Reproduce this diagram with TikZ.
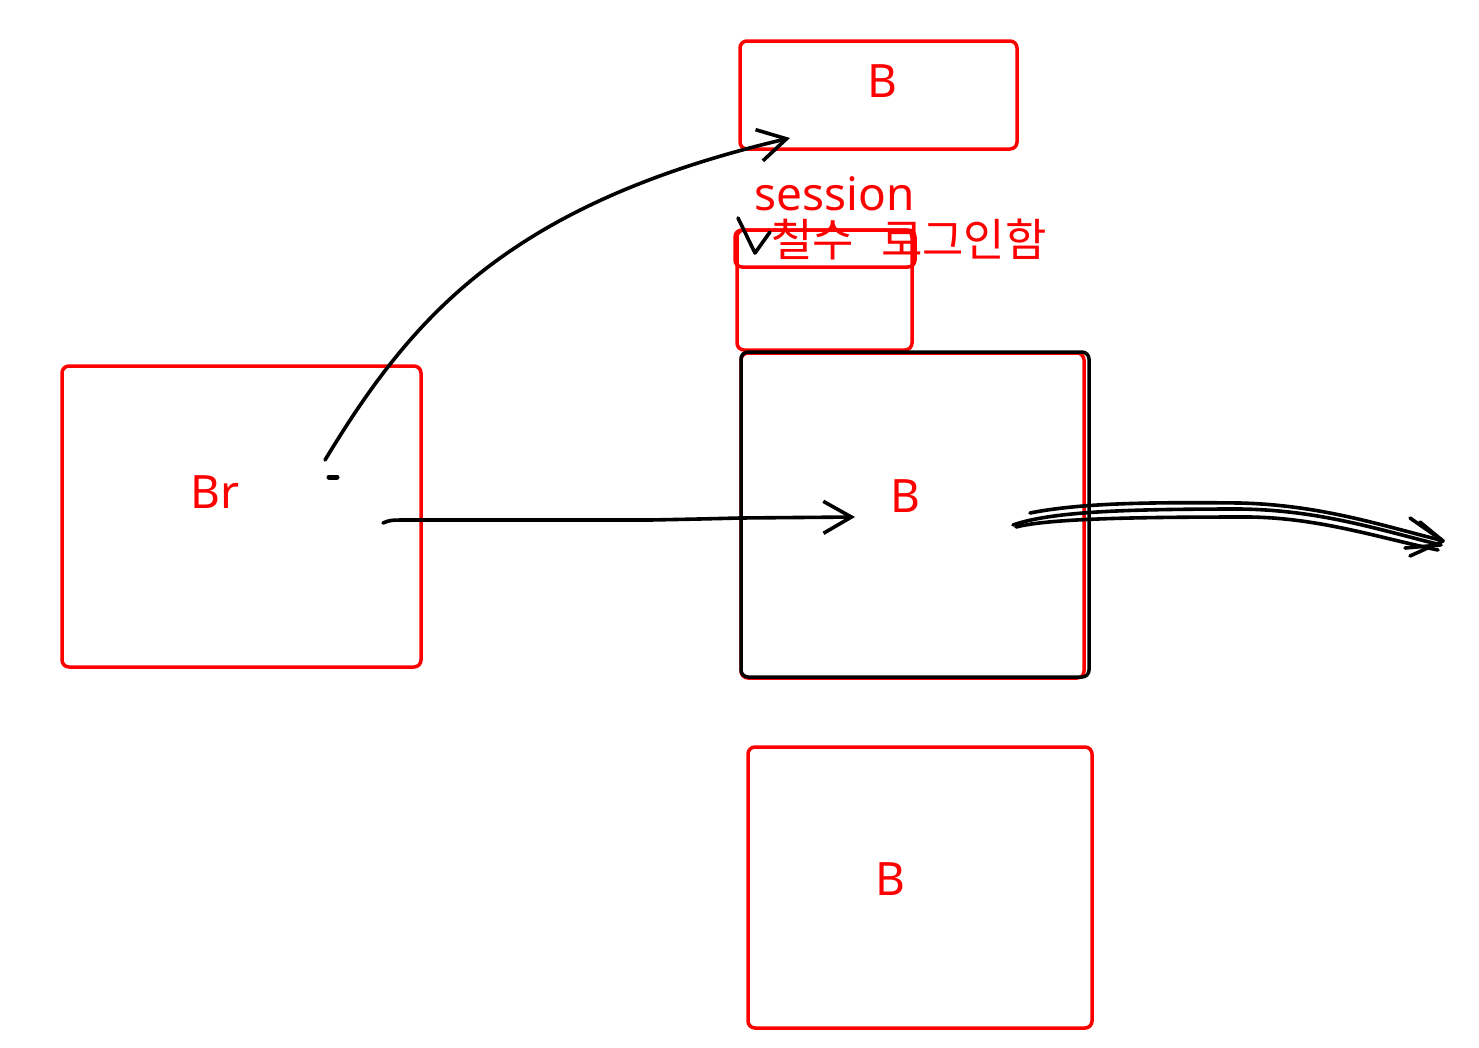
\documentclass[tikz,border=0pt]{standalone}
\usepackage{fontspec}
\setmainfont{Noto Sans}
\newfontfamily\kr{Noto Sans CJK KR}
\usetikzlibrary{arrows.meta}
\definecolor{penred}{RGB}{255,0,0}
\tikzset{
  redbox/.style={draw=penred, line width=3.5pt, rounded corners=7pt, inner sep=0pt, minimum width=#1},
  blackbox/.style={draw=black, line width=3.5pt, rounded corners=7pt, inner sep=0pt},
  lbl/.style={text=penred, font=\fontsize{46}{54}\selectfont, anchor=base, inner sep=0pt},
  pen/.style={draw=black, line width=3.6pt, line cap=round, line join=round},
  barb/.style={-{Straight Barb[length=28pt,width=32pt,line width=3.6pt]}},
}
\begin{document}
\begin{tikzpicture}[x=1pt,y=-1pt]
\useasboundingbox (0,0) rectangle (1479,1047);
\fill[white] (0,0) rectangle (1479,1047);

% boxes
\node[redbox=277pt, minimum height=108pt] (topB) at (878.5,95) {};
\node[redbox=175pt, minimum height=120pt] (sessbox) at (824.5,290) {};
\node[redbox=180pt, minimum height=37pt] (strip) at (825,248.5) {};
\node[redbox=343pt, minimum height=325pt] (midB) at (912.5,515.5) {};
\node[blackbox, minimum width=348pt, minimum height=325pt] (midBk) at (915,514.5) {};
\node[redbox=359pt, minimum height=301pt] (brbox) at (241.5,516.5) {};
\node[redbox=344pt, minimum height=281pt] (botB) at (920,887.5) {};

% labels
\node[lbl] (tTop) at (882,97) {B};
\node[lbl] (tMid) at (905,512) {B};
\node[lbl] (tBot) at (890,895) {B};
\node[lbl] (tBr) at (215,508) {Br};
\node[lbl] (tSess) at (835,210) {session};
\node[lbl, anchor=base west, font=\kr\fontsize{45}{52}\selectfont] (tKr) at (771,256) {철수\hspace{0.6em}로그인함};

% connector points
\coordinate (c1s) at (325,460);
\coordinate (c1e) at (790,138);
\coordinate (c2s) at (383,523);
\coordinate (c2e) at (855,517);

% curved arrow from Br to top B
\draw[pen, barb] (c1s) .. controls (410,320) and (505,205) .. (c1e);
% small dash
\draw[pen, line width=5pt] (329,477) -- (337,477);

% straight arrow from Br to middle B
\draw[pen, barb] (c2s) .. controls (390,520) .. (410,520) -- (650,520) .. controls (700,519) .. (740,518) -- (c2e);

% multi-stroke arrow out of middle B
\coordinate (c3e) at (1443,541);
\draw[pen] (1030,513) .. controls (1080,503) and (1150,502) .. (1240,503) .. controls (1320,505) and (1380,525) .. (1440,540);
\draw[pen] (1013,525) .. controls (1050,512) and (1120,509) .. (1240,509) .. controls (1320,510) and (1380,530) .. (1441,545);
\draw[pen] (1016,527) .. controls (1050,518) and (1150,517) .. (1250,517) .. controls (1320,518) and (1380,538) .. (1438,550);
\draw[pen] (1410,518) -- (c3e);
\draw[pen] (1420,522) -- (c3e);
\draw[pen] (1410,556) -- (c3e);
\draw[pen] (1405,548) -- (1440,545);

% check mark
\draw[pen] (738,218) -- (755,253) -- (770,232);
\end{tikzpicture}
\end{document}
